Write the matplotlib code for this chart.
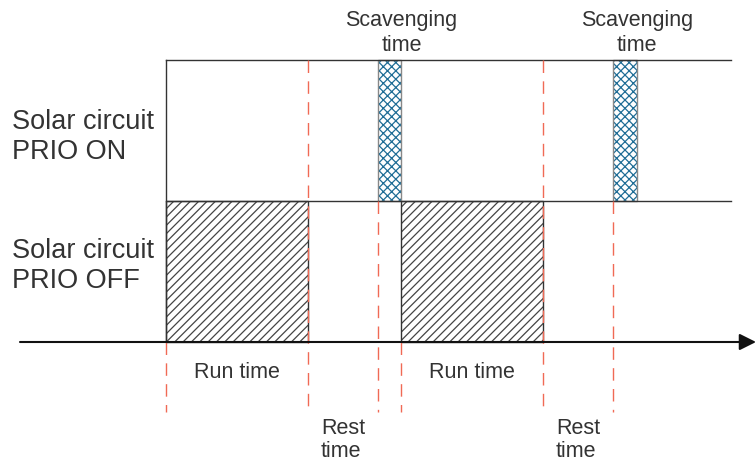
import matplotlib
matplotlib.use("Agg")
import matplotlib.pyplot as plt
from matplotlib.patches import Rectangle

# time positions along the axis (diagram units)
run_start = [166, 401]
run_end = [308, 543]
scav_start = [378, 613]
scav_end = [401, 637]
rest_start = [308, 543]
lane_labels = ["Solar circuit\nPRIO ON", "Solar circuit\nPRIO OFF"]

# lane levels
top_y, mid_y, axis_y = 60, 201, 342
dash_bottom = 412
x_left, x_right = 166, 731

ink = "#333333"
red = "#f06a55"
blue = "#1f6d96"

plt.rcParams["font.family"] = ["Liberation Sans", "DejaVu Sans"]
plt.rcParams["hatch.linewidth"] = 0.9
fig = plt.figure(figsize=(7.56, 4.62), dpi=100)
ax = fig.add_axes([0, 0, 1, 1])
ax.set_xlim(0, 756)
ax.set_ylim(462, 0)
ax.axis("off")

# lane frame
ax.plot([x_left, x_right], [top_y, top_y], color=ink, lw=1)
ax.plot([x_left, x_right], [mid_y, mid_y], color=ink, lw=1)
ax.plot([x_left, x_left], [top_y, axis_y], color=ink, lw=1)

# run time blocks (PRIO OFF)
for s, e in zip(run_start, run_end):
    ax.add_patch(Rectangle((s, mid_y), e - s, axis_y - mid_y, fill=False,
                           hatch="////", edgecolor="#444444", lw=0))
    ax.add_patch(Rectangle((s, mid_y), e - s, axis_y - mid_y, fill=False,
                           edgecolor=ink, lw=1))

# scavenging blocks (PRIO ON)
for s, e in zip(scav_start, scav_end):
    ax.add_patch(Rectangle((s, top_y), e - s, mid_y - top_y, fill=False,
                           hatch="xxxx", edgecolor=blue, lw=0))
    ax.add_patch(Rectangle((s, top_y), e - s, mid_y - top_y, fill=False,
                           edgecolor="#888888", lw=1))

# red dashed markers
dash = (0, (9, 6))
for x in rest_start:
    ax.plot([x, x], [top_y, dash_bottom], color=red, lw=1, ls=dash)
for x in scav_start:
    ax.plot([x, x], [mid_y, dash_bottom], color=red, lw=1, ls=dash)
for x in run_start:
    ax.plot([x, x], [axis_y, dash_bottom], color=red, lw=1, ls=dash)

# time axis with arrow
ax.annotate("", xy=(756, axis_y), xytext=(20, axis_y),
            arrowprops=dict(arrowstyle="-|>", color="#111111", lw=1.5,
                            mutation_scale=25, shrinkA=0, shrinkB=0))

# texts
ax.text(12, 137, lane_labels[0], fontsize=19.5, color=ink, va="center",
        ha="left", linespacing=1.2)
ax.text(12, 266, lane_labels[1], fontsize=19.5, color=ink, va="center",
        ha="left", linespacing=1.2)
for s, e in zip(scav_start, scav_end):
    ax.text((s + e) / 2 + 12, 33, "Scavenging\ntime", fontsize=15.5, color=ink,
            ha="center", va="center", linespacing=1.25)
for s, e in zip(run_start, run_end):
    ax.text((s + e) / 2, 372, "Run time", fontsize=15.5, color=ink,
            ha="center", va="center")
for x in rest_start:
    ax.text(x + 13, 440, "Rest\ntime", fontsize=15.5, color=ink,
            ha="left", va="center", linespacing=1.15)

fig.savefig("out.png", dpi=100)
